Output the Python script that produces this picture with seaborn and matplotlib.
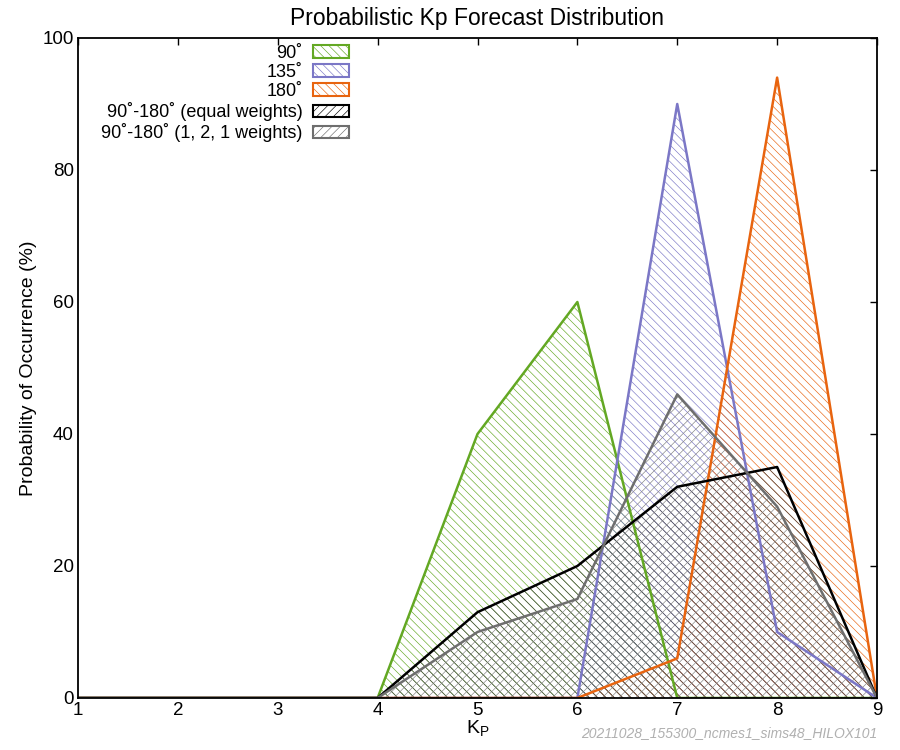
import matplotlib
matplotlib.use("Agg")
import matplotlib.pyplot as plt
import seaborn as sns
import pandas as pd
from matplotlib.patches import Patch

kp = [1, 2, 3, 4, 5, 6, 7, 8, 9]
p90 = [0, 0, 0, 0, 40, 60, 0, 0, 0]
p135 = [0, 0, 0, 0, 0, 0, 90, 10, 0]
p180 = [0, 0, 0, 0, 0, 0, 6, 94, 0]
p_equal = [0, 0, 0, 0, 13, 20, 32, 35, 0]
p_121 = [0, 0, 0, 0, 10, 15, 46, 29, 0]

labels = ["90˚", "135˚", "180˚", "90˚-180˚ (equal weights)", "90˚-180˚ (1, 2, 1 weights)"]
colors = ["#63a823", "#7b77c6", "#e8640f", "#000000", "#6e6e6e"]
fill_colors = ["#63a823", "#7b77c6", "#e8640f", "#444444", "#808080"]
fill_hatches = ["\\\\\\\\", "\\\\\\\\", "\\\\\\\\", "\\\\\\\\", "////"]
legend_hatches = ["\\\\\\\\", "\\\\\\\\", "\\\\\\\\", "////", "////"]
series = [p90, p135, p180, p_equal, p_121]

sns.set_theme(style="white")
plt.rcParams["font.family"] = ["Liberation Sans", "DejaVu Sans"]
plt.rcParams["hatch.linewidth"] = 0.45
plt.rcParams["text.color"] = "black"
plt.rcParams["axes.labelcolor"] = "black"

df = pd.concat([pd.DataFrame({"Kp": kp, "prob": v, "series": l}) for v, l in zip(series, labels)])

fig = plt.figure(figsize=(9, 7.5), dpi=100)
ax = fig.add_axes([78/900, 52/750, (877-78)/900, (698-38)/750])

for v, c, h in zip(series, fill_colors, fill_hatches):
    ax.fill_between(kp, 0, v, facecolor="none", edgecolor=c, hatch=h, linewidth=0)

sns.lineplot(data=df, x="Kp", y="prob", hue="series", palette=dict(zip(labels, colors)),
             hue_order=labels, linewidth=1.8, ax=ax, legend=False)

ax.set_xlim(1, 9)
ax.set_ylim(0, 100)
ax.set_xticks(kp)
ax.set_yticks([0, 20, 40, 60, 80, 100])
ax.tick_params(direction="in", top=True, right=True, length=5, width=1, labelsize=13.5,
               colors="black", pad=3)
for s in ax.spines.values():
    s.set_color("black")
    s.set_linewidth(1.3)
ax.set_xlabel("K$_\\mathregular{P}$", fontsize=14, labelpad=0)
ax.set_ylabel("Probability of Occurrence (%)", fontsize=14, labelpad=4)
ax.set_title("Probabilistic Kp Forecast Distribution", fontsize=16.5, pad=9)

handles = [Patch(facecolor="white", edgecolor=c, hatch=h, linewidth=1.5) for c, h in zip(colors, legend_hatches)]
ax.legend(handles, labels, loc="upper right", bbox_to_anchor=(362/900, 1 - 32/750),
          bbox_transform=fig.transFigure, frameon=False, markerfirst=False, fontsize=13,
          handlelength=2.0, handleheight=0.7, labelspacing=0.12, handletextpad=0.6, borderpad=0.2)

fig.text(0.975, 0.013, "20211028_155300_ncmes1_sims48_HILOX101", ha="right", va="bottom",
         fontsize=10, style="italic", color="#b0b0b0")

fig.savefig("out.png", dpi=100)
